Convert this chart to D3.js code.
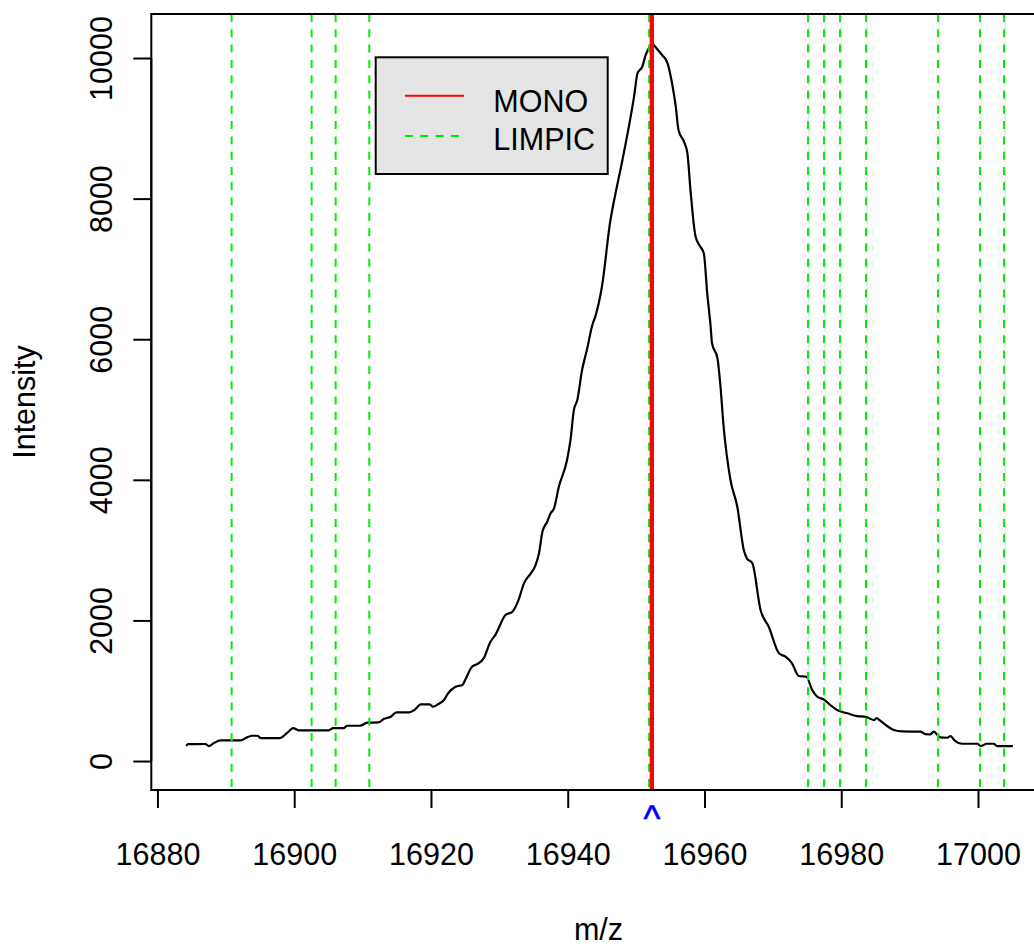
<!DOCTYPE html>
<html>
<head>
<meta charset="utf-8">
<script src="https://cdn.jsdelivr.net/npm/d3@7"></script>
<style>
  html, body { margin: 0; padding: 0; background: #ffffff; }
  svg { display: block; }
  text { font-family: "Liberation Sans", Arial, sans-serif; }
</style>
</head>
<body>
<svg id="chart" width="1034" height="948"></svg>
<script>
// Spectrum trace: m/z positions and intensities
const mz = [
  16884.2, 16884.5, 16887.0, 16887.5, 16888.2, 16889.2, 16892.2, 16892.9, 16893.85, 16894.6,
  16895.1, 16897.9, 16899.0, 16899.85, 16900.7, 16905.05, 16905.7, 16907.25, 16907.7, 16909.6,
  16910.7, 16912.3, 16913.1, 16914.1, 16914.95, 16916.75, 16917.7, 16918.5, 16919.8, 16920.3,
  16921.1, 16921.9, 16922.5, 16923.6, 16924.6, 16925.0, 16926.0, 16926.8, 16927.7, 16928.7,
  16929.4, 16930.9, 16931.9, 16932.8, 16933.6, 16934.6, 16935.3, 16935.8, 16936.3, 16937.0,
  16937.5, 16938.0, 16938.7, 16939.9, 16940.4, 16940.9, 16941.4, 16942.1, 16942.8, 16943.6,
  16944.1, 16945.0, 16946.25, 16946.7, 16948.0, 16949.2, 16949.7, 16950.2, 16950.9, 16951.4,
  16952.0, 16952.35, 16952.8, 16953.8, 16954.6, 16955.3, 16955.8, 16956.2, 16957.0, 16957.5,
  16957.95, 16958.7, 16959.4, 16959.9, 16960.4, 16960.9, 16961.1, 16961.9, 16962.3, 16962.8,
  16963.8, 16964.8, 16965.75, 16966.2, 16967.0, 16968.2, 16969.4, 16970.9, 16971.85, 16972.8,
  16973.8, 16974.9, 16975.75, 16976.5, 16977.45, 16978.4, 16979.4, 16980.9, 16982.3, 16983.55,
  16984.8, 16985.2, 16985.5, 16986.7, 16987.7, 16988.9, 16991.6, 16992.3, 16993.05, 16993.5,
  16994.5, 16995.5, 16996.0, 16996.5, 16997.7, 16999.9, 17000.4, 17001.3, 17002.3, 17002.8,
  17005.1
];
const intensity = [
  218, 240, 242, 213, 252, 294, 294, 327, 360, 360,
  327, 327, 403, 469, 437, 437, 469, 469, 502, 502,
  545, 550, 597, 630, 693, 693, 735, 807, 807, 772,
  811, 868, 963, 1057, 1081, 1152, 1341, 1380, 1461, 1697,
  1792, 2077, 2124, 2290, 2528, 2670, 2788, 2955, 3262, 3404,
  3524, 3595, 3902, 4282, 4566, 4993, 5135, 5562, 5846, 6202,
  6344, 6747, 7696, 7933, 8549, 9165, 9450, 9783, 9876, 10043,
  10161, 10209, 10161, 10043, 9925, 9616, 9307, 8976, 8810, 8645,
  8122, 7458, 7316, 7222, 6653, 6178, 5942, 5728, 5373, 4755,
  3997, 3617, 3001, 2883, 2812, 2148, 1910, 1532, 1484, 1390,
  1209, 1199, 1010, 915, 875, 797, 725, 679, 640, 630,
  583, 612, 590, 498, 441, 422, 417, 384, 380, 417,
  337, 331, 356, 299, 246, 246, 213, 246, 246, 213,
  213
];

// Monoisotopic peak position
const monoMz = [16952.3];
// LIMPIC peak positions
const limpicMz = [
  16890.85, 16902.55, 16906.06, 16910.98, 16951.9,
  16975.14, 16977.48, 16979.82, 16983.62, 16994.15, 17000.29, 17003.80
];

// Axis ticks
const xTicks = [16880, 16900, 16920, 16940, 16960, 16980, 17000];
const yTicks = [0, 2000, 4000, 6000, 8000, 10000];

// Legend entries
const legendLabels = ["MONO", "LIMPIC"];

const svg = d3.select("#chart");
const FONT = 30.5;

const xlim = [16879.1, 17009.9];
const ylim = [-412, 10626];
const x = d3.scaleLinear().domain(xlim).range([151.3, 1045.7]);
const y = d3.scaleLinear().domain(ylim).range([790, 14]);

const plot = { left: x(xlim[0]), right: x(xlim[1]), top: y(ylim[1]), bottom: y(ylim[0]) };

svg.append("defs").append("clipPath").attr("id", "plotClip")
  .append("rect")
  .attr("x", plot.left).attr("y", plot.top)
  .attr("width", plot.right - plot.left).attr("height", plot.bottom - plot.top);

const inner = svg.append("g").attr("clip-path", "url(#plotClip)");

// Spectrum line
const pts = mz.map((m, i) => [m, intensity[i]]);
inner.append("path")
  .datum(pts)
  .attr("fill", "none")
  .attr("stroke", "#000000")
  .attr("stroke-width", 2.2)
  .attr("stroke-linejoin", "round")
  .attr("d", d3.line().x(d => x(d[0])).y(d => y(d[1])).curve(d3.curveMonotoneX));

// LIMPIC vertical markers
inner.selectAll("line.limpic")
  .data(limpicMz)
  .join("line")
  .attr("class", "limpic")
  .attr("x1", d => x(d)).attr("x2", d => x(d))
  .attr("y1", plot.top).attr("y2", plot.bottom)
  .attr("stroke", "#00ee00")
  .attr("stroke-width", 2)
  .attr("stroke-dasharray", "8,7.3");

// MONO vertical marker
inner.selectAll("line.mono")
  .data(monoMz)
  .join("line")
  .attr("class", "mono")
  .attr("x1", d => x(d)).attr("x2", d => x(d))
  .attr("y1", plot.top).attr("y2", plot.bottom)
  .attr("stroke", "#ff0000")
  .attr("stroke-width", 4.3);

// Plot frame
svg.append("rect")
  .attr("x", plot.left).attr("y", plot.top)
  .attr("width", plot.right - plot.left).attr("height", plot.bottom - plot.top)
  .attr("fill", "none").attr("stroke", "#000000").attr("stroke-width", 2);

// X axis
const xAxis = svg.append("g")
  .attr("transform", `translate(0,${plot.bottom})`)
  .call(d3.axisBottom(x).tickValues(xTicks).tickSize(18).tickFormat(d3.format("d")));
xAxis.select(".domain")
  .attr("d", `M${x(xTicks[0])},0H${x(xTicks[xTicks.length - 1])}`)
  .attr("stroke", "#000").attr("stroke-width", 2);
xAxis.selectAll(".tick line").attr("stroke", "#000").attr("stroke-width", 2);
xAxis.selectAll(".tick text")
  .attr("y", 75).attr("dy", null)
  .attr("fill", "#000")
  .style("font-size", FONT + "px")
  .style("font-family", "'Liberation Sans', Arial, sans-serif");

// Y axis
const yAxis = svg.append("g")
  .attr("transform", `translate(${plot.left},0)`)
  .call(d3.axisLeft(y).tickValues(yTicks).tickSize(18).tickFormat(d3.format("d")));
yAxis.select(".domain")
  .attr("d", `M0,${y(yTicks[0])}V${y(yTicks[yTicks.length - 1])}`)
  .attr("stroke", "#000").attr("stroke-width", 2);
yAxis.selectAll(".tick line").attr("stroke", "#000").attr("stroke-width", 2);
yAxis.selectAll(".tick text")
  .attr("x", null).attr("y", null).attr("dy", null)
  .attr("text-anchor", "middle")
  .attr("transform", `translate(${111.7 - plot.left},0) rotate(-90)`)
  .attr("fill", "#000")
  .style("font-size", FONT + "px")
  .style("font-family", "'Liberation Sans', Arial, sans-serif");

// Axis titles
svg.append("text")
  .attr("x", (plot.left + plot.right) / 2)
  .attr("y", 940)
  .attr("text-anchor", "middle")
  .style("font-size", FONT + "px")
  .text("m/z");

svg.append("text")
  .attr("transform", `translate(35,${(plot.top + plot.bottom) / 2}) rotate(-90)`)
  .attr("text-anchor", "middle")
  .style("font-size", FONT + "px")
  .text("Intensity");

// Caret under the monoisotopic position
svg.selectAll("text.caret")
  .data(monoMz)
  .join("text")
  .attr("class", "caret")
  .attr("x", d => x(d))
  .attr("y", 831)
  .attr("text-anchor", "middle")
  .attr("fill", "#0000ff")
  .attr("stroke", "#0000ff")
  .attr("stroke-width", 0.6)
  .style("font-size", "36px")
  .text("^");

// Legend
const legend = svg.append("g");
legend.append("rect")
  .attr("x", 375.7).attr("y", 57.3)
  .attr("width", 232).attr("height", 116.7)
  .attr("fill", "#e5e5e5")
  .attr("stroke", "#000").attr("stroke-width", 2);

const legendStyles = [
  { color: "#ff0000", dash: null, width: 2, lineY: 95.7, textY: 111.7 },
  { color: "#00ee00", dash: "8,7.3", width: 2, lineY: 136, textY: 150 }
];
legendLabels.forEach((lab, i) => {
  const s = legendStyles[i];
  legend.append("line")
    .attr("x1", 405).attr("x2", 464)
    .attr("y1", s.lineY).attr("y2", s.lineY)
    .attr("stroke", s.color).attr("stroke-width", s.width)
    .attr("stroke-dasharray", s.dash);
  legend.append("text")
    .attr("x", 493.3).attr("y", s.textY)
    .style("font-size", FONT + "px")
    .text(lab);
});
</script>
</body>
</html>
